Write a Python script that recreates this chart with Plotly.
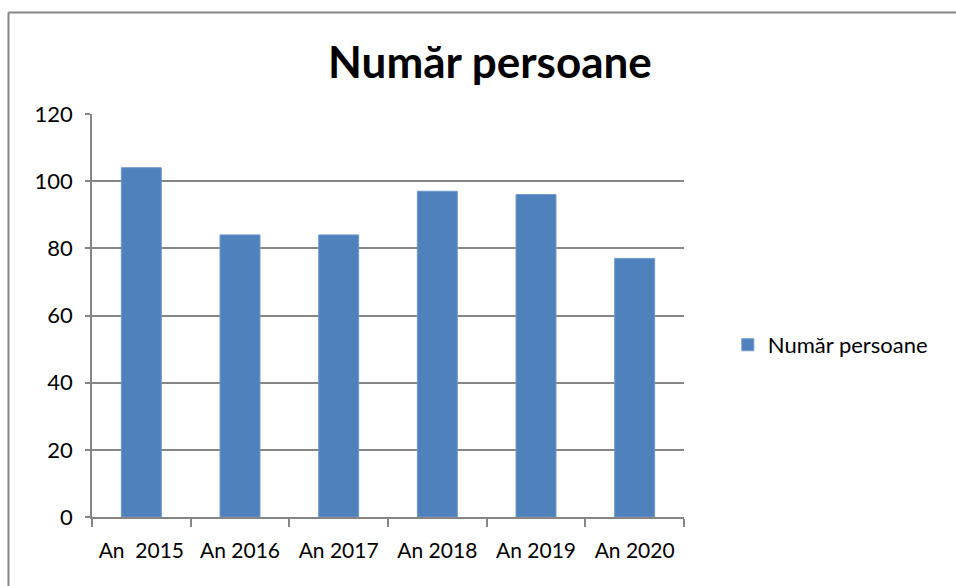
import plotly.graph_objects as go

# Values
years = ["An \u00a02015", "An 2016", "An 2017", "An 2018", "An 2019", "An 2020"]
persons = [104, 84, 84, 97, 96, 77]
series_name = "Număr persoane"

FONT = "Lato, Calibri, 'Open Sans', sans-serif"
GRID = "#868686"

fig = go.Figure()
fig.add_trace(go.Bar(
    x=years, y=persons, name=series_name,
    marker=dict(color="#4F81BD", line=dict(color="#6F98CC", width=1)),
    showlegend=True,
))

# chart-area frame: only the top and left edges fall inside the picture
left = (8.5 - 92) / 592
top = (517 - 12.5) / 403
frame = [
    dict(type="line", xref="paper", yref="paper", x0=left, x1=1.6, y0=top, y1=top,
         line=dict(color=GRID, width=2), layer="below"),
    dict(type="line", xref="paper", yref="paper", x0=left, x1=left, y0=top, y1=-0.3,
         line=dict(color=GRID, width=2), layer="below"),
]

fig.update_layout(
    width=956, height=586,
    margin=dict(l=92, r=272, t=114, b=69, autoexpand=False),
    paper_bgcolor="white", plot_bgcolor="white",
    font=dict(family=FONT, size=22, color="black"),
    bargap=0.595,
    title=dict(text="<b>Număr persoane</b>", x=490 / 956, xanchor="center",
               y=1 - 63 / 586, yanchor="middle", font=dict(size=44)),
    legend=dict(x=1.074, y=0.427, xanchor="left", yanchor="middle",
                font=dict(size=22), bgcolor="rgba(0,0,0,0)"),
    xaxis=dict(showline=True, linecolor=GRID, linewidth=1.5,
               ticks="outside", ticklen=8, tickcolor=GRID, tickwidth=1.5,
               tickson="boundaries", showgrid=False, ticklabelstandoff=14,
               tickangle=0, automargin=False, tickfont=dict(size=21)),
    yaxis=dict(range=[0, 120], dtick=20, showline=True, linecolor=GRID, linewidth=1.5,
               showgrid=True, gridcolor=GRID, gridwidth=1.5, zeroline=False,
               ticks="outside", ticklen=5, tickcolor=GRID, tickwidth=1.5,
               ticklabelstandoff=8, automargin=False),
    shapes=frame,
)

# page body has a default 8px margin; drop it (and any scrollbar) so the figure sits at the corner
fig.write_html("out.html", config={"displayModeBar": False},
               post_script="document.body.style.margin='0';"
                           "document.documentElement.style.overflow='hidden';"
                           "document.body.style.overflow='hidden';")
